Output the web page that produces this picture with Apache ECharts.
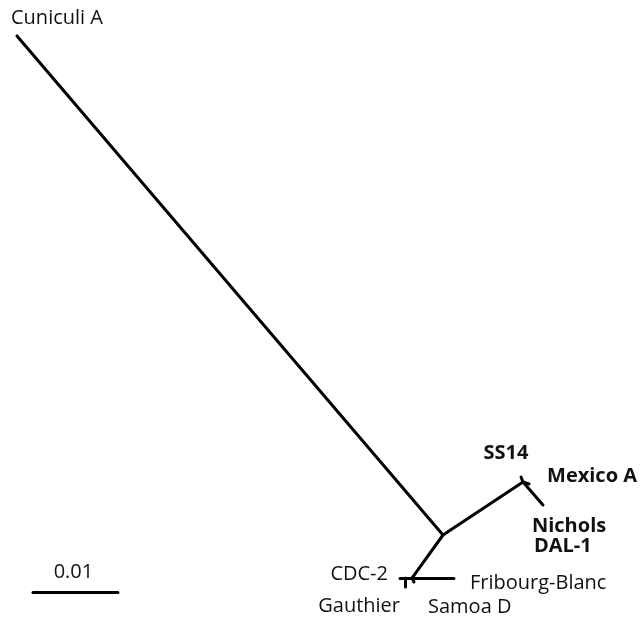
<!DOCTYPE html>
<html>
<head>
<meta charset="utf-8">
<script src="https://cdn.jsdelivr.net/npm/echarts@6/dist/echarts.min.js"></script>
<style>html,body{margin:0;padding:0;background:#fff}#c{width:642px;height:619px}</style>
</head>
<body>
<div id="c"></div>
<script>
// Tree nodes: branch-length coordinates (substitutions/site), origin at central node
var nodeNames = ['root', 'Cuniculi A', 'n1', 'SS14', 'Mexico A', 'Nichols DAL-1', 'n2', 'Fribourg-Blanc', 'Samoa D', 'n3', 'CDC-2', 'Gauthier'];
var nodeX = [0, -0.05012, 0.00941, 0.00918, 0.01012, 0.01176, -0.00365, 0.00129, -0.00341, -0.00447, -0.00506, -0.00447];
var nodeY = [0, 0.05871, 0.00624, 0.00682, 0.00600, 0.00353, -0.00506, -0.00506, -0.00553, -0.00506, -0.00506, -0.00612];
// Edges [parent, child]
var edges = [[0, 1], [0, 2], [2, 3], [2, 4], [2, 5], [0, 6], [6, 7], [6, 8], [6, 9], [9, 10], [9, 11]];
// Tip labels
var tipLabels = [
  { node: 1, text: 'Cuniculi A', bold: false },
  { node: 3, text: 'SS14', bold: true },
  { node: 4, text: 'Mexico A', bold: true },
  { node: 5, text: 'Nichols', bold: true },
  { node: 5, text: 'DAL-1', bold: true },
  { node: 7, text: 'Fribourg-Blanc', bold: false },
  { node: 8, text: 'Samoa D', bold: false },
  { node: 10, text: 'CDC-2', bold: false },
  { node: 11, text: 'Gauthier', bold: false }
];
var scaleBarLength = 0.01;
var scaleBarLabel = '0.01';

// ---- layout (positions of labels relative to their tips, pixels) ----
var labelLayout = [
  { dx: 40, dy: -18, align: 'center' },
  { dx: -15, dy: -24, align: 'center' },
  { dx: 18, dy: -8, align: 'left' },
  { dx: -11, dy: 21, align: 'left' },
  { dx: -9, dy: 41, align: 'left' },
  { dx: 16, dy: 5, align: 'left' },
  { dx: 14, dy: 25, align: 'left' },
  { dx: -12, dy: -4, align: 'right' },
  { dx: -5, dy: 19, align: 'right' }
];
var scaleBarStart = [-0.04824, -0.00671];

var edgeData = edges.map(function (e) {
  return { coords: [[nodeX[e[0]], nodeY[e[0]]], [nodeX[e[1]], nodeY[e[1]]]] };
});
edgeData.push({ coords: [scaleBarStart, [scaleBarStart[0] + scaleBarLength, scaleBarStart[1]]] });

var labelData = tipLabels.map(function (t, i) {
  var l = labelLayout[i];
  return {
    value: [nodeX[t.node], nodeY[t.node]],
    label: {
      show: true,
      formatter: t.text,
      position: [0, 0],
      offset: [l.dx, l.dy],
      align: l.align,
      verticalAlign: 'middle',
      fontWeight: t.bold ? 'bold' : 'normal'
    }
  };
});
labelData.push({
  value: [scaleBarStart[0] + scaleBarLength / 2, scaleBarStart[1]],
  label: { show: true, formatter: scaleBarLabel, position: [0, 0], offset: [-2, -20], align: 'center', verticalAlign: 'middle', fontWeight: 'normal' }
});

var chart = echarts.init(document.getElementById('c'), null, { renderer: 'canvas' });
chart.setOption({
  animation: false,
  backgroundColor: '#ffffff',
  grid: { left: 0, right: 0, top: 0, bottom: 0 },
  xAxis: { type: 'value', min: -0.052118, max: 0.023412, show: false },
  yAxis: { type: 'value', min: -0.009882, max: 0.062941, show: false },
  series: [
    {
      type: 'lines',
      coordinateSystem: 'cartesian2d',
      polyline: false,
      lineStyle: { color: '#000', width: 3, opacity: 1, cap: 'round' },
      data: edgeData,
      silent: true
    },
    {
      type: 'scatter',
      symbolSize: 0,
      silent: true,
      itemStyle: { opacity: 1, color: '#000' },
      label: { color: '#111', opacity: 1, fontSize: 20, fontFamily: 'Open Sans' },
      data: labelData
    }
  ]
});
</script>
</body>
</html>
